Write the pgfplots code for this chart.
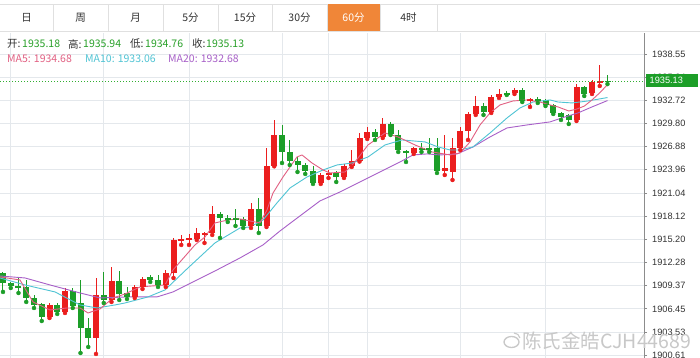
\documentclass[border=0pt]{standalone}
\usepackage{pgfplots}
\pgfplotsset{compat=1.18}
\usepackage{pgfplotstable}
\usepackage{fontspec}
\setmainfont{Liberation Sans}
\newfontfamily\cjk{Noto Sans CJK SC}
\definecolor{cRed}{RGB}{235,30,30}
\definecolor{cGreen}{RGB}{28,158,40}
\definecolor{ma5}{RGB}{226,96,130}
\definecolor{ma10}{RGB}{80,196,212}
\definecolor{ma20}{RGB}{168,96,200}
\definecolor{gridc}{RGB}{228,232,236}
\definecolor{tabb}{RGB}{224,224,224}
\definecolor{orangetab}{RGB}{240,134,56}
\definecolor{txt}{RGB}{51,51,51}
\definecolor{valgreen}{RGB}{40,160,40}
\definecolor{pline}{RGB}{50,175,50}
\definecolor{wm}{RGB}{200,200,200}

\pgfplotstableread{
x o h l c
6 1905.43 1907.19 1905.30 1906.94
8 1906.06 1909.08 1905.93 1908.70
12 1902.78 1910.34 1900.77 1908.20
14 1907.69 1911.72 1907.32 1909.96
17 1907.95 1909.46 1907.82 1909.21
18 1909.21 1910.47 1908.95 1910.21
21 1909.46 1911.35 1909.21 1910.97
22 1910.97 1915.38 1910.34 1915.13
23 1915.00 1915.76 1914.50 1915.25
24 1915.19 1915.88 1914.50 1915.38
25 1915.25 1916.64 1915.13 1916.01
26 1915.82 1916.13 1914.75 1916.01
27 1916.01 1919.41 1915.76 1918.40
32 1916.89 1919.79 1916.64 1919.03
34 1916.89 1926.71 1916.76 1924.45
35 1924.45 1930.24 1924.40 1928.35
41 1922.30 1923.56 1922.18 1923.31
42 1923.37 1923.94 1922.93 1923.56
44 1923.06 1924.70 1922.93 1924.45
45 1924.45 1926.46 1924.32 1925.07
46 1925.07 1928.60 1925.00 1927.97
47 1927.97 1929.36 1927.85 1928.73
49 1928.10 1930.49 1927.97 1929.73
53 1926.08 1926.84 1925.96 1926.71
57 1923.82 1928.35 1923.31 1924.19
58 1923.69 1927.97 1922.68 1926.71
59 1926.71 1929.36 1926.46 1928.85
60 1928.85 1931.25 1927.72 1930.99
61 1930.99 1933.26 1930.87 1932.00
63 1931.25 1933.39 1931.12 1933.13
64 1933.13 1934.14 1933.01 1933.51
66 1933.64 1934.27 1933.51 1934.02
68 1932.63 1933.01 1931.88 1932.88
74 1930.24 1934.77 1930.11 1934.39
76 1933.64 1935.28 1933.51 1935.02
77 1934.96 1937.17 1934.52 1935.15
}\redtab

\pgfplotstableread{
x o h l c
0 1910.97 1911.10 1908.58 1909.71
1 1909.71 1909.84 1909.08 1909.33
2 1909.33 1910.47 1908.45 1909.08
3 1909.21 1910.09 1907.32 1907.82
4 1907.82 1908.20 1906.56 1906.94
5 1907.06 1907.19 1904.92 1905.43
7 1906.94 1907.19 1905.81 1906.06
9 1908.70 1909.08 1906.56 1906.81
10 1907.19 1910.09 1900.89 1904.04
11 1904.04 1905.30 1901.65 1902.78
13 1908.20 1911.10 1907.19 1907.69
15 1909.96 1911.22 1907.57 1908.32
16 1908.45 1909.21 1907.69 1907.95
19 1910.47 1910.72 1909.84 1910.09
20 1910.09 1910.72 1909.21 1909.46
28 1918.40 1918.65 1915.38 1917.90
29 1917.90 1918.27 1917.39 1917.71
30 1917.90 1919.03 1916.89 1917.71
31 1917.77 1918.02 1916.64 1916.89
33 1919.03 1920.41 1916.01 1916.89
36 1928.35 1929.61 1924.82 1926.21
37 1926.21 1927.72 1924.57 1925.07
38 1925.07 1925.58 1923.69 1924.57
39 1924.57 1924.82 1923.44 1923.82
40 1923.82 1924.45 1922.18 1922.30
43 1923.56 1923.82 1922.43 1923.06
48 1928.73 1929.10 1927.72 1928.10
50 1929.73 1929.99 1928.35 1928.48
51 1928.35 1928.98 1926.21 1926.46
52 1926.33 1926.46 1924.95 1926.08
54 1926.71 1927.34 1926.21 1926.52
55 1926.71 1927.97 1926.21 1926.52
56 1926.71 1927.97 1923.56 1923.82
62 1932.00 1932.38 1930.87 1931.25
65 1933.64 1933.89 1933.39 1933.45
67 1934.02 1934.27 1932.50 1932.63
69 1932.88 1933.13 1932.38 1932.69
70 1932.76 1932.88 1932.00 1932.13
71 1932.13 1932.25 1930.99 1931.12
72 1931.12 1931.25 1930.24 1930.62
73 1930.87 1930.99 1929.73 1930.24
75 1934.39 1934.52 1933.26 1933.51
78 1935.18 1935.94 1934.76 1935.13
}\greentab

\begin{document}
\begin{tikzpicture}[x=1pt,y=1pt]
\useasboundingbox (0,0) rectangle (700,358);
\fill[white] (0,0) rectangle (700,358);
\begin{axis}[
  at={(0,0)}, anchor=south west,
  scale only axis, width=644pt, height=325pt,
  xmin=-0.387, xmax=82.71, ymin=1900.26, ymax=1941.19,
  axis y line*=right, axis x line*=bottom,
  x axis line style={draw=none},
  y axis line style={draw=black!45, line width=0.9pt},
  xtick={1,13,24,36,42,47,59,70}, xticklabels={},
  xtick style={draw=none},
  xmajorgrids, ymajorgrids,
  grid style={gridc, line width=0.9pt},
  ytick={1900.61,1903.53,1906.45,1909.37,1912.28,1915.20,1918.12,1921.04,1923.96,1926.88,1929.80,1932.72,1935.64,1938.55},
  yticklabels={1900.61,1903.53,1906.45,1909.37,1912.28,1915.20,1918.12,1921.04,1923.96,1926.88,1929.80,1932.72,1935.64,1938.55},
  ytick align=outside, major tick length=3pt,
  ytick style={draw=black!45, line width=0.8pt},
  yticklabel style={font=\fontsize{9.2}{10}\selectfont, text=txt, anchor=west, inner xsep=0pt, xshift=5pt},
]
% wicks
\addplot[cRed, only marks, mark=none,
  error bars/.cd, y dir=plus, y explicit, error mark=none,
  error bar style={line width=1pt, cRed}]
  table[x=x, y=l, y error plus expr=\thisrow{h}-\thisrow{l}] {\redtab};
\addplot[cGreen, only marks, mark=none,
  error bars/.cd, y dir=plus, y explicit, error mark=none,
  error bar style={line width=1pt, cGreen}]
  table[x=x, y=l, y error plus expr=\thisrow{h}-\thisrow{l}] {\greentab};
% bodies
\addplot[cRed, only marks, mark=-, mark size=3pt, mark options={line width=1pt, cRed},
  error bars/.cd, y dir=plus, y explicit, error mark=none,
  error bar style={line width=6pt, cRed}]
  table[x=x, y=o, y error plus expr=\thisrow{c}-\thisrow{o}] {\redtab};
\addplot[cGreen, only marks, mark=-, mark size=3pt, mark options={line width=1pt, cGreen},
  error bars/.cd, y dir=plus, y explicit, error mark=none,
  error bar style={line width=6pt, cGreen}]
  table[x=x, y=c, y error plus expr=\thisrow{o}-\thisrow{c}] {\greentab};
% MA20
\addplot[ma20, line width=0.9pt, mark=none, line join=round] coordinates {
(-0.4,1910.59) (2.84,1910.34) (6.06,1909.46) (9.94,1908.45) (12.52,1907.82) (16.0,1907.95) (19.87,1907.95) (21.94,1908.58) (24.52,1909.84) (27.35,1911.22) (30.58,1912.86) (33.55,1914.50) (35.74,1916.26) (38.32,1918.15) (40.9,1920.04) (43.48,1921.17) (46.06,1922.43) (48.65,1923.69) (51.23,1924.95) (52.9,1925.83) (54.71,1925.96) (56.39,1925.83) (58.58,1925.96) (60.65,1926.84) (62.84,1928.10) (65.03,1929.23) (67.61,1929.61) (70.58,1929.99) (72.52,1930.62) (74.19,1931.12) (76.0,1931.88) (78,1932.68)};
% MA10
\addplot[ma10, line width=0.9pt, mark=none, line join=round] coordinates {
(-0.4,1910.34) (2.84,1909.46) (6.71,1908.58) (9.94,1906.94) (12.13,1906.56) (14.45,1906.94) (15.74,1907.19) (18.71,1907.95) (20.9,1908.83) (23.87,1911.60) (27.35,1914.75) (30.58,1916.64) (31.87,1916.76) (33.55,1917.64) (35.35,1919.79) (37.03,1921.67) (39.23,1923.06) (41.29,1923.94) (43.1,1924.57) (45.03,1924.82) (47.1,1925.58) (49.29,1927.09) (51.48,1927.72) (54.45,1927.47) (56.13,1926.84) (57.68,1926.46) (58.97,1926.46) (60.65,1926.84) (62.84,1928.60) (65.03,1930.49) (66.71,1931.75) (68.39,1932.50) (70.58,1932.76) (71.61,1932.50) (73.42,1932.38) (75.48,1932.63) (78,1933.06)};
% MA5
\addplot[ma5, line width=0.9pt, mark=none, line join=round] coordinates {
(-0.4,1910.47) (2.19,1910.09) (3.87,1907.32) (6.06,1906.31) (8.26,1906.56) (9.94,1906.56) (10.97,1905.93) (12.52,1906.44) (14.19,1907.82) (15.74,1908.32) (17.68,1909.21) (20.9,1909.46) (21.94,1911.35) (24.77,1914.50) (26.06,1915.50) (27.35,1917.27) (29.03,1917.64) (30.58,1917.77) (33.16,1917.27) (34.06,1918.90) (34.84,1921.04) (36.13,1923.06) (37.94,1925.58) (38.58,1925.83) (39.87,1924.82) (41.29,1923.94) (42.19,1923.56) (44.13,1923.69) (45.42,1924.95) (47.1,1927.09) (49.29,1928.60) (50.97,1928.10) (53.16,1927.09) (55.35,1926.21) (57.68,1925.83) (58.97,1926.08) (60.26,1927.47) (61.55,1929.61) (62.84,1931.12) (64.13,1932.13) (65.81,1932.63) (67.61,1932.76) (69.29,1932.50) (70.58,1932.13) (71.61,1931.88) (73,1931.37) (74,1931.6) (75,1931.98) (76,1932.76) (77,1933.66) (78,1934.68)};
% last price line
\addplot[pline, dash pattern=on 1.3pt off 1.7pt, line width=1pt, mark=none] coordinates {(-0.387,1935.13) (82.71,1935.13)};
\end{axis}
% price label
\fill[cGreen] (646,271) rectangle (698,283.5);
\node[anchor=west, inner sep=0pt, text=white, font=\fontsize{9.2}{10}\selectfont] at (649.5,277.2) {1935.13};
% tab bar
\draw[tabb, line width=0.8pt] (0,354) -- (700,354);
\draw[tabb, line width=0.8pt] (0,327) -- (700,327);
\fill[orangetab] (327,327) rectangle (380,354);
\foreach \xx in {53,108,163,218,272,327,380,437} {\draw[tabb, line width=0.8pt] (\xx,327) -- (\xx,354);}
\begin{scope}[every node/.style={font=\cjk\fontsize{10.5}{12}\selectfont, text=txt, inner sep=0pt}]
\node at (26.5,340.5) {日};
\node at (80.5,340.5) {周};
\node at (135.5,340.5) {月};
\node at (190.5,340.5) {5分};
\node at (245,340.5) {15分};
\node at (299.5,340.5) {30分};
\node[text=white] at (353.5,340.5) {60分};
\node at (408.5,340.5) {4时};
\end{scope}
% info lines
\begin{scope}[every node/.style={font=\cjk\fontsize{10.5}{12}\selectfont, inner sep=0pt, anchor=west}]
\node[text=txt] at (7,314) {开:};
\node[text=valgreen] at (22,314) {1935.18};
\node[text=txt] at (68,314) {高:};
\node[text=valgreen] at (83,314) {1935.94};
\node[text=txt] at (130,314) {低:};
\node[text=valgreen] at (145,314) {1934.76};
\node[text=txt] at (192,314) {收:};
\node[text=valgreen] at (206,314) {1935.13};
\node[text=ma5] at (7,299) {MA5: 1934.68};
\node[text=ma10] at (85,299) {MA10: 1933.06};
\node[text=ma20] at (168,299) {MA20: 1932.68};
\end{scope}
% watermark
\draw[wm, line width=1.3pt] (511.5,16) ellipse (7.5 and 5.5);
\draw[wm, line width=1.1pt] (514,25) arc (90:10:6);
\node[anchor=west, inner sep=0pt, text=wm, font=\cjk\fontsize{19.5}{20}\selectfont] at (522,17) {陈氏金皓CJH44689};
\end{tikzpicture}
\end{document}
